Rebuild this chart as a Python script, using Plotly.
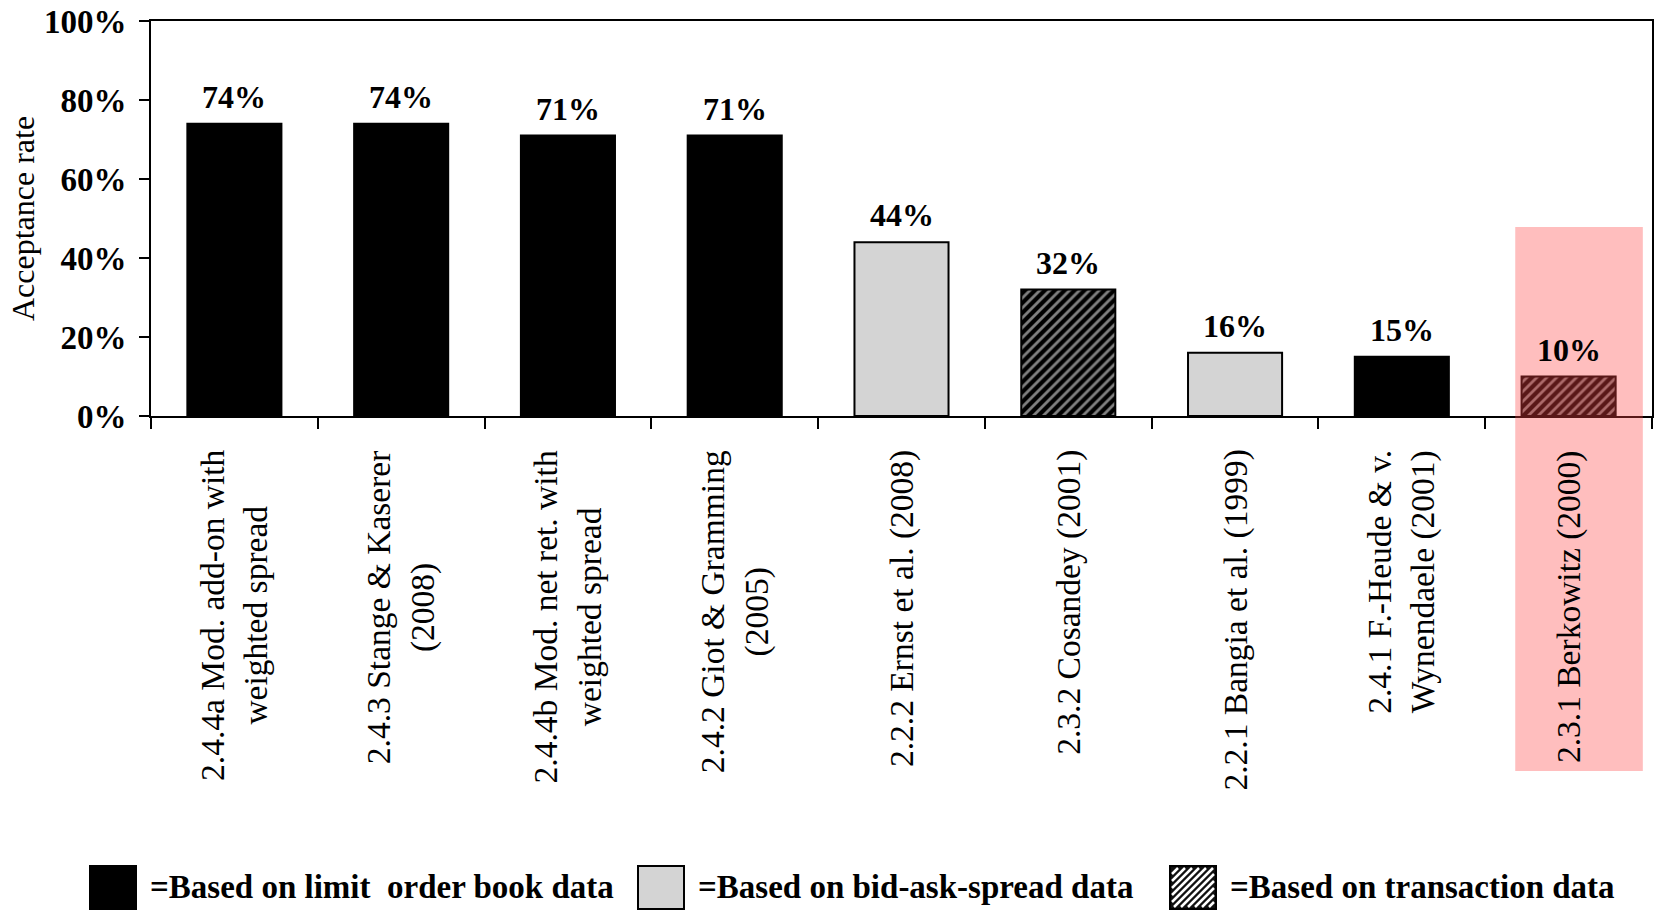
import plotly.graph_objects as go

# ---------------- data ----------------
categories = [
    "2.4.4a Mod. add-on with weighted spread",
    "2.4.3 Stange & Kaserer (2008)",
    "2.4.4b Mod. net ret. with weighted spread",
    "2.4.2 Giot & Gramming (2005)",
    "2.2.2 Ernst et al. (2008)",
    "2.3.2 Cosandey (2001)",
    "2.2.1 Bangia et al. (1999)",
    "2.4.1 F.-Heude & v. Wynendaele (2001)",
    "2.3.1 Berkowitz (2000)",
]
category_labels = [
    "2.4.4a Mod. add-on with<br>weighted spread",
    "2.4.3 Stange & Kaserer<br>(2008)",
    "2.4.4b Mod. net ret. with<br>weighted spread",
    "2.4.2 Giot & Gramming<br>(2005)",
    "2.2.2 Ernst et al. (2008)",
    "2.3.2 Cosandey (2001)",
    "2.2.1 Bangia et al. (1999)",
    "2.4.1 F.-Heude & v.<br>Wynendaele (2001)",
    "2.3.1 Berkowitz (2000)",
]
values = [74, 74, 71, 71, 44, 32, 16, 15, 10]
data_types = ["limit", "limit", "limit", "limit", "spread",
              "transaction", "spread", "limit", "transaction"]
y_tick_values = [0, 20, 40, 60, 80, 100]
y_tick_labels = ["0%", "20%", "40%", "60%", "80%", "100%"]
legend_types = ["limit", "spread", "transaction"]
legend_labels = ["=Based on limit  order book data",
                 "=Based on bid-ask-spread data",
                 "=Based on transaction data"]
highlight_category = "2.3.1 Berkowitz (2000)"

# ---------------- styling ----------------
W, H = 1660, 910
ML, MR, MT, MB = 151, 8, 21, 494
PW, PH = W - ML - MR, H - MT - MB
FONT = "Liberation Serif"

type_color = {"limit": "black", "spread": "#d4d4d4", "transaction": "black"}
type_pattern = {"limit": "", "spread": "", "transaction": "/"}


def px_x(p):
    return (p - ML) / PW


def px_y(p):
    return (MT + PH - p) / PH


fig = go.Figure()
fig.add_trace(go.Bar(
    x=categories,
    y=values,
    marker=dict(
        color=[type_color[t] for t in data_types],
        line=dict(color="black", width=2),
        pattern=dict(shape=[type_pattern[t] for t in data_types],
                     fgcolor="white", bgcolor="#111111", size=7, solidity=0.4),
    ),
    showlegend=False,
))

annotations = []
# value labels
for c, v in zip(categories, values):
    annotations.append(dict(
        x=c, y=v, xref="x", yref="y", text=f"{v}%", showarrow=False,
        yanchor="bottom", yshift=7,
        font=dict(family=FONT, size=32, color="black", weight="bold"),
    ))
# category labels
for c, lab in zip(categories, category_labels):
    annotations.append(dict(
        x=c, y=px_y(448), xref="x", yref="paper", text=lab, showarrow=False,
        yanchor="top", xanchor="center", textangle=-90, align="center",
        font=dict(family=FONT, size=33.5, color="black"),
    ))

shapes = []
# highlight
hi = categories.index(highlight_category)
shapes.append(dict(
    type="rect", xref="x", yref="paper",
    x0=hi - 0.32, x1=hi + 0.445, y0=px_y(771), y1=px_y(227),
    fillcolor="rgb(255,70,70)", opacity=0.35, line=dict(width=0),
    layer="above",
))

# custom legend
swatch_left = [90, 638, 1170]
sw_w, sw_top, sw_bot = 46, 866, 909
text_offset = 61
for t, lab, sx in zip(legend_types, legend_labels, swatch_left):
    x0, x1 = sx, sx + sw_w
    shapes.append(dict(
        type="rect", xref="paper", yref="paper",
        x0=px_x(x0), x1=px_x(x1), y0=px_y(sw_bot), y1=px_y(sw_top),
        fillcolor="#111111" if type_pattern[t] else type_color[t],
        line=dict(color="black", width=2),
    ))
    if type_pattern[t]:
        segs = []
        step = 7
        k = x0 + sw_top + 3
        while k <= x1 + sw_bot:
            xa = max(x0 + 2, k - sw_bot + 2)
            xb = min(x1 - 2, k - sw_top - 2)
            if xb > xa:
                segs.append(f"M{px_x(xa):.5f},{px_y(k - xa):.5f}L{px_x(xb):.5f},{px_y(k - xb):.5f}")
            k += step
        shapes.append(dict(type="path", xref="paper", yref="paper",
                           path="".join(segs),
                           line=dict(color="white", width=2.5)))
    annotations.append(dict(
        x=px_x(sx + text_offset - 3), y=px_y(887), xref="paper", yref="paper",
        text=lab, showarrow=False, xanchor="left", yanchor="middle",
        font=dict(family=FONT, size=33, color="black", weight="bold"),
    ))

fig.update_layout(
    width=W, height=H,
    margin=dict(l=ML, r=MR, t=MT, b=MB, autoexpand=False),
    paper_bgcolor="white", plot_bgcolor="white",
    bargap=0.436,
    annotations=annotations,
    shapes=shapes,
    font=dict(family=FONT, color="black"),
    xaxis=dict(
        type="category", range=[-0.5, len(categories) - 0.5],
        showline=True, linecolor="black", linewidth=2, mirror=True,
        ticks="outside", tickson="boundaries", ticklen=11, tickwidth=2,
        tickcolor="black", showticklabels=False, showgrid=False,
    ),
    yaxis=dict(
        range=[0, 100], tickvals=y_tick_values, ticktext=y_tick_labels,
        showline=True, linecolor="black", linewidth=2, mirror=True,
        ticks="outside", ticklen=10, tickwidth=2, tickcolor="black",
        showgrid=False, zeroline=False, ticklabelstandoff=6,
        tickfont=dict(family=FONT, size=33, color="black", weight="bold"),
        title=dict(text="Acceptance rate", standoff=0,
                   font=dict(family=FONT, size=32, color="black")),
    ),
)

fig.write_html("out.html")
